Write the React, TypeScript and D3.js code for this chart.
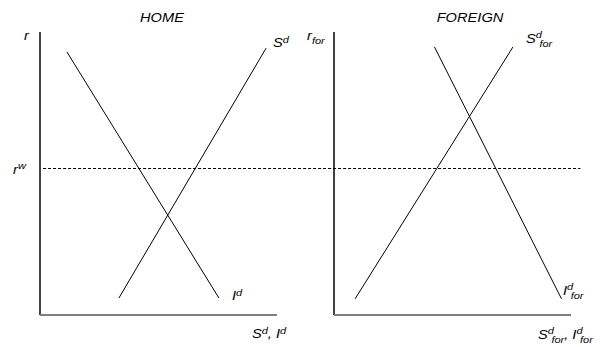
import React from "react";
import * as d3 from "d3";

const W = 605;
const H = 347;

// Panel definitions (abstract units 0..10 on both axes)
const panels = ["HOME", "FOREIGN"];
// Curves per panel: [x, y] endpoints in data units
const homeInvestment = [[1.14, 9.29], [7.55, 0.6]];
const homeSaving = [[3.33, 0.6], [9.54, 9.43]];
const foreignSaving = [[0.89, 0.57], [7.55, 9.47]];
const foreignInvestment = [[4.24, 9.47], [9.6, 0.57]];
const worldRate = 5.19;
const worldRateSpan = [0.13, 10.4]; // start in home units, end in foreign units

const SX = 1.22;

function Lbl({ x, y, anchor, size, children }: any) {
  return (
    <g transform={`translate(${x},${y}) scale(${SX},1)`}>
      <text x={0} y={0} textAnchor={anchor || "start"} fontSize={size || 12}>
        {children}
      </text>
    </g>
  );
}

export default function App() {
  const yScale = d3.scaleLinear().domain([0, 10]).range([315, 32]);
  const xHome = d3.scaleLinear().domain([0, 10]).range([40, 277]);
  const xFor = d3.scaleLinear().domain([0, 10]).range([334, 571]);

  const lineGen = (xs: d3.ScaleLinear<number, number>) =>
    d3
      .line<number[]>()
      .x((d) => xs(d[0]))
      .y((d) => yScale(d[1]));

  const font = "'Liberation Sans', Arial, sans-serif";
  const ry = Math.round(yScale(worldRate)) + 0.5;

  return (
    <svg
      width={W}
      height={H}
      style={{ position: "absolute", left: 0, top: 0, background: "#fff" }}
      fontFamily={font}
      fontStyle="italic"
      fontSize={12}
    >
      {/* axes */}
      <line x1={xHome(0)} y1={yScale(10)} x2={xHome(0)} y2={yScale(0)} stroke="#000" strokeWidth={1.5} />
      <line x1={xHome(0)} y1={yScale(0)} x2={xHome(10)} y2={yScale(0)} stroke="#808080" strokeWidth={2} />
      <line x1={xFor(0)} y1={yScale(10)} x2={xFor(0)} y2={yScale(0)} stroke="#000" strokeWidth={1.5} />
      <line x1={xFor(0)} y1={yScale(0)} x2={xFor(10)} y2={yScale(0)} stroke="#808080" strokeWidth={2} />

      {/* world rate dashed */}
      <line
        x1={xHome(worldRateSpan[0])}
        y1={ry}
        x2={xFor(worldRateSpan[1])}
        y2={ry}
        stroke="#000"
        strokeWidth={1}
        strokeDasharray="3,2"
      />

      {/* curves */}
      <path d={lineGen(xHome)(homeInvestment) || ""} stroke="#000" fill="none" strokeWidth={1} />
      <path d={lineGen(xHome)(homeSaving) || ""} stroke="#000" fill="none" strokeWidth={1} />
      <path d={lineGen(xFor)(foreignSaving) || ""} stroke="#000" fill="none" strokeWidth={1} />
      <path d={lineGen(xFor)(foreignInvestment) || ""} stroke="#000" fill="none" strokeWidth={1} />

      {/* titles */}
      <Lbl x={162} y={22} anchor="middle">{panels[0]}</Lbl>
      <Lbl x={470} y={22} anchor="middle">{panels[1]}</Lbl>

      {/* home labels */}
      <Lbl x={24} y={40}>r</Lbl>
      <Lbl x={13} y={174}>
        r<tspan fontSize={9} dy={-5}>w</tspan>
      </Lbl>
      <Lbl x={273} y={47}>
        S<tspan fontSize={9} dy={-4}>d</tspan>
      </Lbl>
      <Lbl x={232} y={300}>
        I<tspan fontSize={9} dy={-4}>d</tspan>
      </Lbl>
      <Lbl x={252} y={338}>
        S<tspan fontSize={9} dy={-4}>d</tspan>
        <tspan dy={4}>, I</tspan>
        <tspan fontSize={9} dy={-4}>d</tspan>
      </Lbl>

      {/* foreign labels */}
      <Lbl x={307} y={40}>
        r<tspan fontSize={9} dy={4}>for</tspan>
      </Lbl>
      <Lbl x={526} y={43}>
        S<tspan fontSize={9} dy={-5}>d</tspan>
        <tspan fontSize={9} dx={-2} dy={9}>for</tspan>
      </Lbl>
      <Lbl x={563} y={295}>
        I<tspan fontSize={9} dy={-5}>d</tspan>
        <tspan fontSize={9} dx={-2} dy={9}>for</tspan>
      </Lbl>
      <Lbl x={538} y={339}>
        S<tspan fontSize={9} dy={-5}>d</tspan>
        <tspan fontSize={9} dx={-2} dy={9}>for</tspan>
        <tspan dy={-4}>, I</tspan>
        <tspan fontSize={9} dy={-5}>d</tspan>
        <tspan fontSize={9} dx={-2} dy={9}>for</tspan>
      </Lbl>
    </svg>
  );
}
